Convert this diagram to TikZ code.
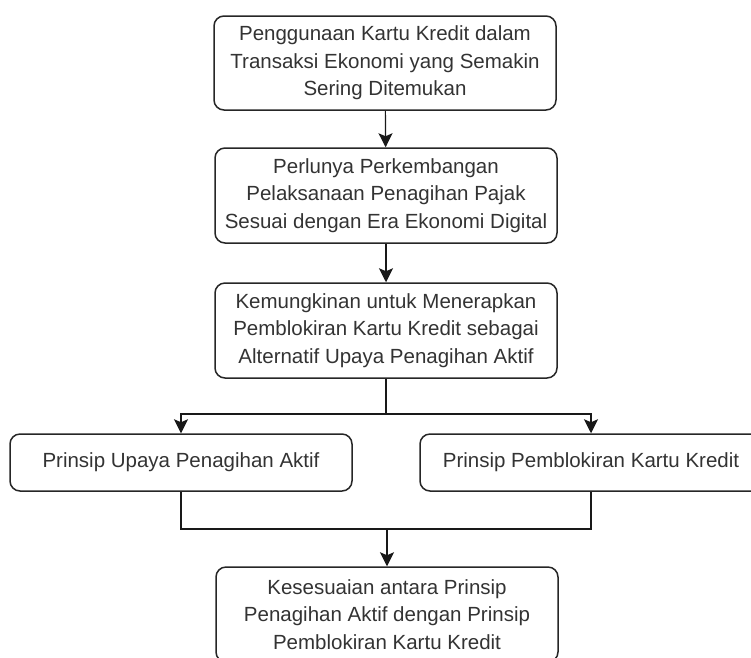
\documentclass[tikz,border=0pt]{standalone}
\usepackage{fontspec}
\setmainfont{Liberation Sans}
\usetikzlibrary{arrows.meta}
\usepackage{xcolor}

\begin{document}
\begin{tikzpicture}[x=1pt,y=-1pt,
    box/.style={draw=black!85, line width=1.5pt, rounded corners=10pt,
      minimum width=342pt, align=center, text=black!80, inner sep=0pt,
      font=\fontsize{20.5}{27.5}\selectfont},
    link/.style={draw=black!90, line width=1.2pt},
    arr/.style={link, -{Stealth[length=14pt,width=14pt,inset=3pt]}}]

  \useasboundingbox (0,0) rectangle (751,657);

  \node[box, minimum height=94pt] (guna) at (385,63)
    {Penggunaan Kartu Kredit dalam\\Transaksi Ekonomi yang Semakin\\Sering Ditemukan};
  \node[box, minimum height=95pt] (perlu) at (386,195.5)
    {Perlunya Perkembangan\\Pelaksanaan Penagihan Pajak\\Sesuai dengan Era Ekonomi Digital};
  \node[box, minimum height=95pt] (mungkin) at (386,330.5)
    {Kemungkinan untuk Menerapkan\\Pemblokiran Kartu Kredit sebagai\\Alternatif Upaya Penagihan Aktif};
  \node[box, minimum height=57pt] (aktif) at (181,462.5) {Prinsip Upaya Penagihan Aktif};
  \node[box, minimum height=57pt] (blokir) at (591,462.5) {Prinsip Pemblokiran Kartu Kredit};
  \node[box, minimum height=95pt] (sesuai) at (387,614.5)
    {Kesesuaian antara Prinsip\\Penagihan Aktif dengan Prinsip\\Pemblokiran Kartu Kredit};

  \coordinate (split) at (386,414);
  \coordinate (join) at (387,529);

  \draw[arr] (guna) -- (perlu);
  \draw[arr] (perlu) -- (mungkin);
  \draw[link] (mungkin) -- (split);
  \draw[arr] (split) -| (aktif.north);
  \draw[arr] (split) -| (blokir.north);
  \draw[link] (aktif.south) |- (join);
  \draw[link] (blokir.south) |- (join);
  \draw[arr] (join) -- (sesuai.north);

\end{tikzpicture}
\end{document}
